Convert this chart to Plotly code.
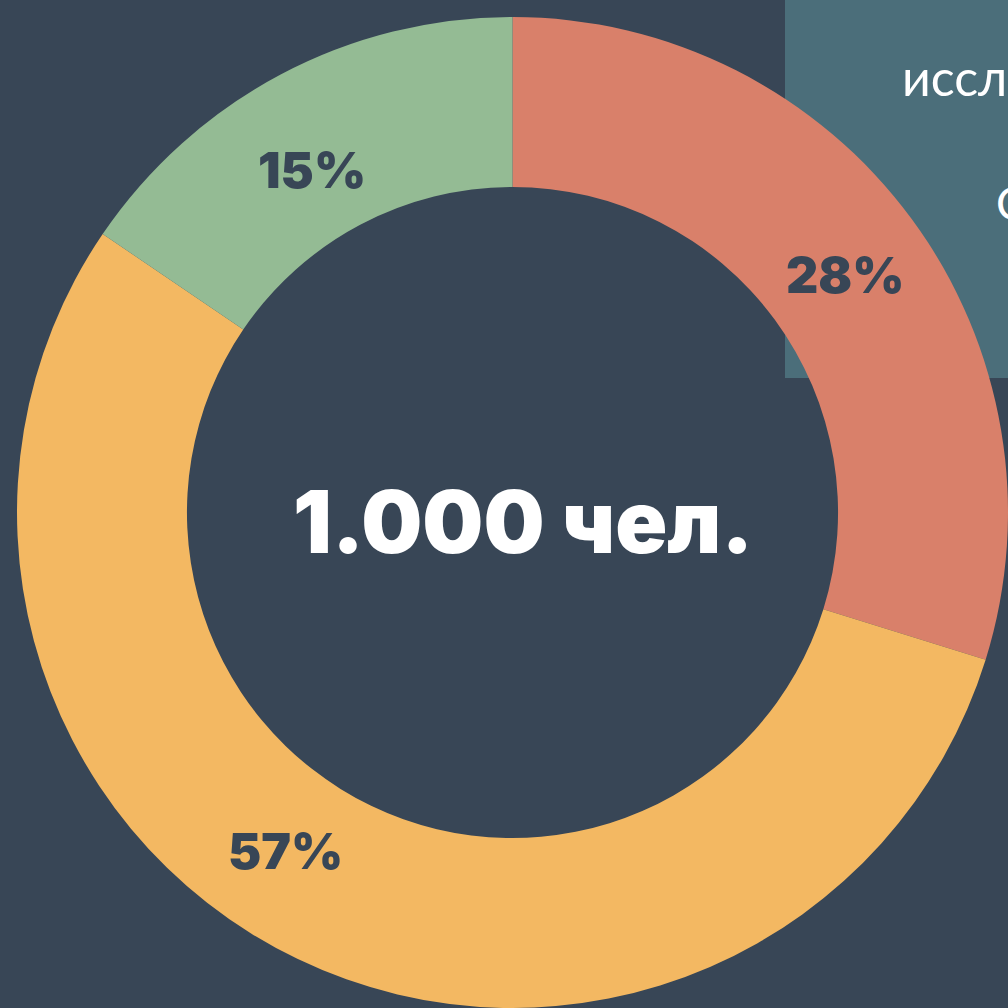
import plotly.graph_objects as go

# Data
categories = ["Группа A", "Группа B", "Группа C"]
shares = [29.8, 54.7, 15.5]          # slice geometry as drawn
labels_pct = ["28%", "57%", "15%"]   # printed labels
center_label = "1.000 чел."
side_title = "исследование"
side_sub = "Опрос"

BG = "#384656"
PANEL = "#4B6E7A"
colors = ["#D9806A", "#F3B862", "#94BB94"]

W = H = 1008

fig = go.Figure()
fig.add_trace(go.Pie(
    labels=categories,
    values=shares,
    textinfo="none",
    hole=0.657,
    sort=False,
    direction="clockwise",
    rotation=0,
    marker=dict(colors=colors, line=dict(width=0)),
    domain=dict(x=[17 / W, 1], y=[0, 991 / H]),
    showlegend=False,
    hoverinfo="skip",
))

# percentage labels placed on the ring, as in the picture
label_pos = [(845, 275), (285, 851), (312, 170)]
for txt, (px, py) in zip(labels_pct, label_pos):
    fig.add_annotation(text=txt, xref="paper", yref="paper",
                       x=px / W, y=1 - py / H, xanchor="center", yanchor="middle",
                       showarrow=False,
                       font=dict(family="Inter, Lato, sans-serif", size=50, color=BG, weight=900))

fig.add_shape(type="rect", xref="paper", yref="paper",
              x0=785 / W, x1=1.02, y0=1 - 378 / H, y1=1.02,
              fillcolor=PANEL, line=dict(width=0), layer="below")

fig.add_annotation(text=center_label, xref="paper", yref="paper",
                   x=523 / W, y=1 - 522 / H, xanchor="center", yanchor="middle",
                   showarrow=False,
                   font=dict(family="Inter, Lato, sans-serif", size=86, color="#FFFFFF", weight=900))
fig.add_annotation(text=side_title, xref="paper", yref="paper",
                   x=900 / W, y=1 - 77 / H, xanchor="left", yanchor="middle",
                   showarrow=False,
                   font=dict(family="Lato, Noto Sans, sans-serif", size=50, color="#FFFFFF"))
fig.add_annotation(text=side_sub, xref="paper", yref="paper",
                   x=994 / W, y=1 - 203 / H, xanchor="left", yanchor="middle",
                   showarrow=False,
                   font=dict(family="Lato, Noto Sans, sans-serif", size=46, color="#FFFFFF"))

fig.update_layout(
    width=W, height=H,
    margin=dict(l=0, r=0, t=0, b=0),
    paper_bgcolor=BG, plot_bgcolor=BG,
)

fig.write_html("out.html",
               config={"displayModeBar": False},
               post_script="document.body.style.margin='0';document.body.style.background='%s';" % BG)
